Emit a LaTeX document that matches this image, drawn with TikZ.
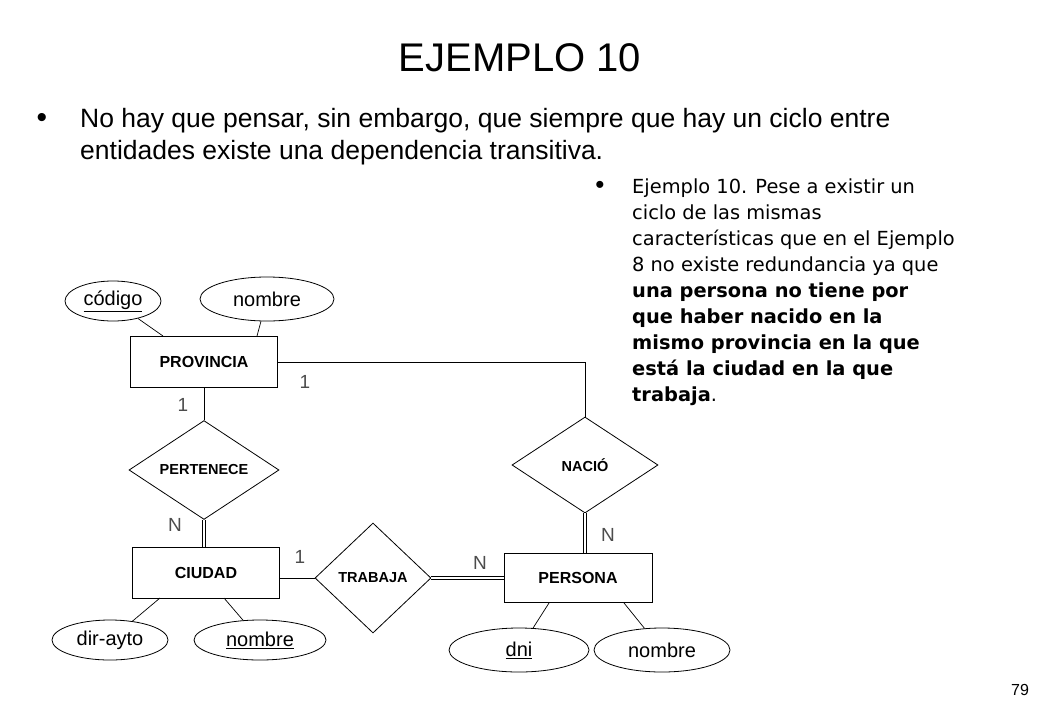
\documentclass[tikz,border=0pt]{standalone}
\usepackage{fontspec}
\setmainfont{Liberation Sans}
\newfontfamily\dvs{DejaVu Sans}
\usetikzlibrary{shapes.geometric}
\begin{document}
\begin{tikzpicture}[x=1pt,y=-1pt,
  ent/.style={draw,line width=0.8pt,minimum width=147pt,minimum height=51pt,font=\fontsize{16}{18}\selectfont\bfseries},
  rel/.style={draw,line width=0.8pt,diamond,inner sep=0pt,font=\fontsize{14.5}{16}\selectfont\bfseries},
  att/.style={draw,line width=0.8pt,ellipse,inner sep=0pt,font=\fontsize{20}{22}\selectfont},
  ln/.style={line width=0.7pt},
  dbl/.style={double,double distance=2.2pt,line width=1pt},
  card/.style={font=\fontsize{19}{21}\selectfont,text=black!70},
  rt/.style={anchor=base west,font=\dvs\fontsize{19.4}{22}\selectfont,inner sep=0pt},
  rtb/.style={rt,font=\dvs\bfseries\fontsize{19.4}{22}\selectfont},
  lt/.style={anchor=base west,inner sep=0pt,font=\fontsize{26.5}{30}\selectfont}]
\useasboundingbox (0,0) rectangle (1040,720);
\node (title) at (520,58) {\fontsize{40}{44}\selectfont EJEMPLO 10};
\node[anchor=base,inner sep=0pt] (b1) at (42,127) {\fontsize{30}{30}\selectfont\textbullet};
\node[lt] (t1) at (80,127) {No hay que pensar, sin embargo, que siempre que hay un ciclo entre};
\node[lt] (t2) at (80,159) {entidades existe una dependencia transitiva.};
\node[anchor=base,inner sep=0pt] (b2) at (600,193) {\fontsize{26}{26}\selectfont\textbullet};
\node[rt] (r1) at (632,193) {Ejemplo 10. Pese a existir un};
\node[rt] (r2) at (632,219) {ciclo de las mismas};
\node[rt] (r3) at (632,245) {características que en el Ejemplo};
\node[rt] (r4) at (632,271) {8 no existe redundancia ya que};
\node[rtb] (r5) at (632,297) {una persona no tiene por};
\node[rtb] (r6) at (632,323) {que haber nacido en la};
\node[rtb] (r7) at (632,349) {mismo provincia en la que};
\node[rtb] (r8) at (632,375) {está la ciudad en la que};
\node[rt] (r9) at (632,401) {\textbf{trabaja}.};
\node[font=\fontsize{16}{18}\selectfont] (pg) at (1020,690) {79};

\node[ent] (prov) at (204,362) {PROVINCIA};
\node[ent] (ciu) at (206,573) {CIUDAD};
\node[ent,minimum width=148pt,minimum height=49pt] (per) at (578,578) {PERSONA};
\node[rel,minimum width=150pt,minimum height=90pt] (pert) at (204,470) {PERTENECE};
\node[rel,minimum width=146pt,minimum height=96pt] (nac) at (585,465) {NACIÓ};
\node[rel,minimum width=116pt,minimum height=110pt] (trab) at (373,578) {TRABAJA};
\node[att,minimum width=96pt,minimum height=40pt] (cod) at (113,301) {\underline{código}};
\node[att,minimum width=134pt,minimum height=44pt] (nom1) at (267,299) {nombre};
\node[att,minimum width=116pt,minimum height=40pt] (dir) at (110,640) {dir-ayto};
\node[att,minimum width=132pt,minimum height=40pt] (nom2) at (260,640) {\underline{nombre}};
\node[att,minimum width=140pt,minimum height=44pt] (dni) at (519,650) {\underline{dni}};
\node[att,minimum width=136pt,minimum height=44pt] (nom3) at (662,650) {nombre};

\draw[ln] (cod) -- (163,336);
\draw[ln] (nom1) -- (257,336);
\draw[ln] (160,598) -- (dir);
\draw[ln] (224,598) -- (nom2);
\draw[ln] (549,603) -- (dni);
\draw[ln] (624,603) -- (nom3);
\draw[ln] (prov.south) -- (pert.north);
\draw[dbl] (pert.south) -- (pert.south |- ciu.north);
\draw[ln] (prov.east) -| (nac.north);
\draw[dbl] (nac.south) -- (nac.south |- per.north);
\draw[ln] (ciu.east |- trab.west) -- (trab.west);
\draw[dbl] (trab.east) -- (per.west |- trab.east);

\node[card] (c1) at (305,382) {1};
\node[card] (c2) at (183,405) {1};
\node[card] (c3) at (175,525) {N};
\node[card] (c4) at (608,535) {N};
\node[card] (c5) at (300,557) {1};
\node[card] (c6) at (480,563) {N};
\end{tikzpicture}
\end{document}
